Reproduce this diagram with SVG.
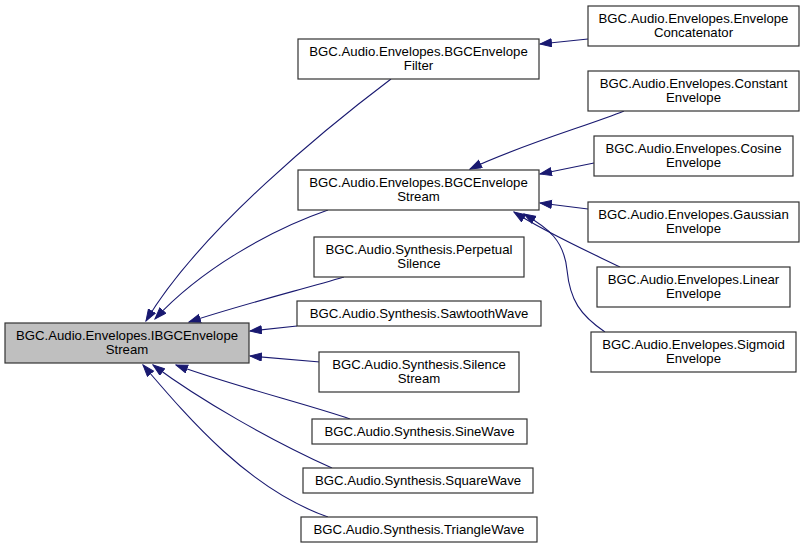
<svg xmlns="http://www.w3.org/2000/svg" width="805" height="551" viewBox="0 0 805 551">
<style>
.n rect{fill:#ffffff;stroke:#333333;stroke-width:1.2}
.root rect{fill:#bfbfbf;stroke:#333333;stroke-width:1.2}
text{font-family:"Liberation Sans",Arial,Helvetica,sans-serif;font-size:13.2px;text-anchor:middle;fill:#000000}
.e path{fill:none;stroke:#191970;stroke-width:1.1;marker-end:url(#ah)}
</style>
<defs>
<marker id="ah" markerUnits="userSpaceOnUse" markerWidth="13" markerHeight="10" refX="12" refY="4.5" orient="auto" viewBox="0 0 13 10">
<path d="M0.5,0.5 L12,4.5 L0.5,8.5 z" fill="#191970" stroke="#191970" stroke-width="1"/>
</marker>
</defs>
<rect width="805" height="551" fill="#ffffff"/>
<g id="edges" class="e">
<path d="M588,39 L540,44"/>
<path d="M624,111 C590,125 520,145 470,169"/>
<path d="M594,163 L540,174"/>
<path d="M588,209 L540,203"/>
<path d="M620,267 C585,250 545,232 514,212"/>
<path d="M605,332 C580,315 570,300 567,270 C564,240 548,228 524,214"/>
<path d="M391,79 C330,125 200,230 146,321"/>
<path d="M328,210 C270,230 200,270 155,319"/>
<path d="M344,277 C300,290 240,305 189,322"/>
<path d="M297,326 L250,331"/>
<path d="M320,362 L250,356"/>
<path d="M350,419 C310,405 230,385 176,365"/>
<path d="M332,468 C270,440 200,400 153,365"/>
<path d="M328,517 C250,490 190,420 143,365"/>
</g>
<g id="IBGCEnvelopeStream" class="root"><rect x="5" y="323" width="244" height="40"/><text x="127" y="340">BGC.Audio.Envelopes.IBGCEnvelope</text><text x="127" y="353.5">Stream</text></g>
<g id="BGCEnvelopeFilter" class="n"><rect x="298" y="39" width="241" height="40"/><text x="418.5" y="56">BGC.Audio.Envelopes.BGCEnvelope</text><text x="418.5" y="69.5">Filter</text></g>
<g id="BGCEnvelopeStream" class="n"><rect x="298" y="170" width="241" height="40"/><text x="418.5" y="187">BGC.Audio.Envelopes.BGCEnvelope</text><text x="418.5" y="200.5">Stream</text></g>
<g id="PerpetualSilence" class="n"><rect x="314" y="237" width="210" height="40"/><text x="419" y="254">BGC.Audio.Synthesis.Perpetual</text><text x="419" y="267.5">Silence</text></g>
<g id="SawtoothWave" class="n"><rect x="297" y="301" width="244" height="25"/><text x="419" y="318">BGC.Audio.Synthesis.SawtoothWave</text></g>
<g id="SilenceStream" class="n"><rect x="319" y="352" width="200" height="40"/><text x="419" y="369">BGC.Audio.Synthesis.Silence</text><text x="419" y="382.5">Stream</text></g>
<g id="SineWave" class="n"><rect x="312" y="419" width="215" height="25"/><text x="419.5" y="436">BGC.Audio.Synthesis.SineWave</text></g>
<g id="SquareWave" class="n"><rect x="303" y="468" width="230" height="25"/><text x="418" y="485">BGC.Audio.Synthesis.SquareWave</text></g>
<g id="TriangleWave" class="n"><rect x="301" y="517" width="236" height="25"/><text x="419" y="534">BGC.Audio.Synthesis.TriangleWave</text></g>
<g id="EnvelopeConcatenator" class="n"><rect x="588" y="6" width="211" height="40"/><text x="693.5" y="23">BGC.Audio.Envelopes.Envelope</text><text x="693.5" y="36.5">Concatenator</text></g>
<g id="ConstantEnvelope" class="n"><rect x="588" y="71" width="211" height="40"/><text x="693.5" y="88">BGC.Audio.Envelopes.Constant</text><text x="693.5" y="101.5">Envelope</text></g>
<g id="CosineEnvelope" class="n"><rect x="594" y="136" width="199" height="40"/><text x="693.5" y="153">BGC.Audio.Envelopes.Cosine</text><text x="693.5" y="166.5">Envelope</text></g>
<g id="GaussianEnvelope" class="n"><rect x="588" y="202" width="211" height="40"/><text x="693.5" y="219">BGC.Audio.Envelopes.Gaussian</text><text x="693.5" y="232.5">Envelope</text></g>
<g id="LinearEnvelope" class="n"><rect x="597" y="267" width="193" height="40"/><text x="693.5" y="284">BGC.Audio.Envelopes.Linear</text><text x="693.5" y="297.5">Envelope</text></g>
<g id="SigmoidEnvelope" class="n"><rect x="591" y="332" width="205" height="40"/><text x="693.5" y="349">BGC.Audio.Envelopes.Sigmoid</text><text x="693.5" y="362.5">Envelope</text></g>
</svg>
